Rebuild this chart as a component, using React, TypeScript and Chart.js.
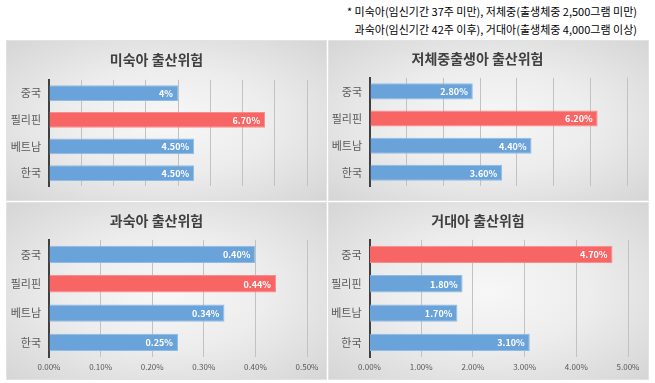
import React, { useEffect, useRef } from "react";
import { Chart, registerables } from "chart.js";

Chart.register(...registerables);

const categories = ["중국", "필리핀", "베트남", "한국"];

const pretermValues = [4.0, 6.7, 4.5, 4.5];
const pretermLabels = ["4%", "6.70%", "4.50%", "4.50%"];
const lowWeightValues = [2.8, 6.2, 4.4, 3.6];
const postTermValues = [0.4, 0.44, 0.34, 0.25];
const macrosomiaValues = [4.7, 1.8, 1.7, 3.1];

const pretermHighlight = [1];
const lowWeightHighlight = [1];
const postTermHighlight = [1];
const macrosomiaHighlight = [0];

const noteLine1 = "* 미숙아(임신기간 37주 미만), 저체중(출생체중 2,500그램 미만)";
const noteLine2 = "과숙아(임신기간 42주 이후), 거대아(출생체중 4,000그램 이상)";

const FONT = "'Noto Sans CJK KR', 'Noto Sans', sans-serif";
const BLUE = "#6aa3d9";
const BLUE_BORDER = "#8fbce6";
const RED = "#f86565";
const RED_BORDER = "#fb8c8c";

const fmt2 = (v: number) => v.toFixed(2) + "%";

type PanelProps = {
  title: string;
  values: number[];
  labels: string[];
  highlight: number[];
  max: number;
  step: number;
  showTicks: boolean;
  left: number;
  top: number;
  width: number;
  height: number;
  yWidth: number;
  rightPad: number;
  bottomPad: number;
  xHeight: number;
  titlePad: { top: number; bottom: number };
};

function Panel(p: PanelProps) {
  const ref = useRef<HTMLCanvasElement | null>(null);
  useEffect(() => {
    if (!ref.current) return;
    const labelPlugin = {
      id: "valueLabels",
      afterDatasetsDraw(chart: any) {
        const ctx = chart.ctx;
        const meta = chart.getDatasetMeta(0);
        ctx.save();
        ctx.fillStyle = "#ffffff";
        ctx.font = "bold 9px " + FONT;
        ctx.textAlign = "right";
        ctx.textBaseline = "middle";
        meta.data.forEach((bar: any, i: number) => {
          ctx.fillText(p.labels[i], bar.x - 5, bar.y + 0.5);
        });
        ctx.restore();
      },
    };
    const chart = new Chart(ref.current, {
      type: "bar",
      data: {
        labels: categories,
        datasets: [
          {
            data: p.values,
            backgroundColor: p.values.map((_, i) => (p.highlight.includes(i) ? RED : BLUE)),
            borderColor: p.values.map((_, i) => (p.highlight.includes(i) ? RED_BORDER : BLUE_BORDER)),
            borderWidth: 1,
            barPercentage: 0.59,
            categoryPercentage: 1,
          },
        ],
      },
      options: {
        indexAxis: "y",
        responsive: false,
        maintainAspectRatio: false,
        animation: false,
        layout: { padding: { left: 0, right: p.rightPad, top: 0, bottom: p.bottomPad } },
        plugins: {
          legend: { display: false },
          tooltip: { enabled: false },
          title: {
            display: true,
            text: p.title,
            color: "#404040",
            font: { family: FONT, size: 14, weight: "bold" },
            padding: p.titlePad,
          },
        },
        scales: {
          x: {
            min: 0,
            max: p.max,
            ticks: {
              display: p.showTicks,
              stepSize: p.step,
              callback: (v: any) => fmt2(Number(v)),
              color: "#595959",
              font: { family: FONT, size: 8 },
              padding: 5,
              maxRotation: 0,
            },
            grid: { color: "#c2c2c2", lineWidth: 1, drawTicks: false },
            border: { display: false },
            afterFit: (s: any) => {
              s.height = p.xHeight;
            },
          },
          y: {
            grid: { display: false, drawTicks: false },
            border: { display: true, color: "#404040", width: 2 },
            ticks: { color: "#595959", font: { family: FONT, size: 11 }, padding: 8 },
            afterFit: (s: any) => {
              s.width = p.yWidth;
            },
          },
        },
      },
      plugins: [labelPlugin],
    } as any);
    return () => chart.destroy();
  }, []);
  return (
    <div
      style={{
        position: "absolute",
        left: p.left,
        top: p.top,
        width: p.width,
        height: p.height,
        background:
          "radial-gradient(ellipse farthest-corner at 50% 50%, #f7f7f7 0%, #ededed 45%, #d5d5d5 100%)",
        boxShadow: "inset 0 0 0 1px #e2e2e2",
      }}
    >
      <canvas
        ref={ref}
        width={p.width}
        height={p.height}
        style={{ position: "absolute", left: 0, top: 0, width: p.width, height: p.height }}
      />
    </div>
  );
}

export default function App() {
  return (
    <div
      style={{
        position: "absolute",
        left: 0,
        top: 0,
        width: 655,
        height: 383,
        background: "#ffffff",
        overflow: "hidden",
        fontFamily: FONT,
      }}
    >
      <div
        style={{
          position: "absolute",
          right: 18,
          top: 2,
          textAlign: "right",
          fontSize: 11,
          lineHeight: "18px",
          color: "#000",
          whiteSpace: "nowrap",
        }}
      >
        <div>{noteLine1}</div>
        <div>{noteLine2}</div>
      </div>
      <Panel
        title="미숙아 출산위험"
        values={pretermValues}
        labels={pretermLabels}
        highlight={pretermHighlight}
        max={8}
        step={1}
        showTicks={false}
        left={6}
        top={40}
        width={321}
        height={161}
        yWidth={43}
        rightPad={20}
        bottomPad={5}
        xHeight={0}
        titlePad={{ top: 11, bottom: 12 }}
      />
      <Panel
        title="저체중출생아 출산위험"
        values={lowWeightValues}
        labels={lowWeightValues.map(fmt2)}
        highlight={lowWeightHighlight}
        max={7}
        step={1}
        showTicks={false}
        left={328}
        top={40}
        width={321}
        height={161}
        yWidth={42}
        rightPad={22}
        bottomPad={6}
        xHeight={0}
        titlePad={{ top: 10, bottom: 11 }}
      />
      <Panel
        title="과숙아 출산위험"
        values={postTermValues}
        labels={postTermValues.map(fmt2)}
        highlight={postTermHighlight}
        max={0.5}
        step={0.1}
        showTicks={true}
        left={6}
        top={202}
        width={321}
        height={178}
        yWidth={43}
        rightPad={20}
        bottomPad={0}
        xHeight={23}
        titlePad={{ top: 10, bottom: 11 }}
      />
      <Panel
        title="거대아 출산위험"
        values={macrosomiaValues}
        labels={macrosomiaValues.map(fmt2)}
        highlight={macrosomiaHighlight}
        max={5}
        step={1}
        showTicks={true}
        left={328}
        top={202}
        width={321}
        height={178}
        yWidth={41.5}
        rightPad={21}
        bottomPad={0}
        xHeight={23}
        titlePad={{ top: 10, bottom: 11 }}
      />
    </div>
  );
}
